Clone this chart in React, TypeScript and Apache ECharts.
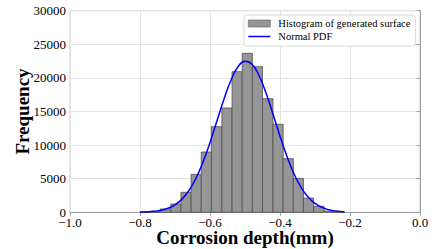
import React, { useEffect, useRef } from "react";
import * as echarts from "echarts";

// Histogram bin edges (mm) and counts
const binEdges = [
  -0.8, -0.771, -0.742, -0.712, -0.683, -0.654, -0.625, -0.596, -0.566, -0.537,
  -0.508, -0.479, -0.45, -0.42, -0.391, -0.362, -0.333, -0.304, -0.274, -0.245, -0.216,
];
const binCounts = [
  30, 150, 500, 1235, 2980, 5650, 8970, 12740, 15520, 20920,
  23660, 21670, 16900, 13100, 7980, 5050, 2120, 900, 200, 50,
];

// Normal PDF curve
const pdfX = [
  -0.8, -0.78, -0.76, -0.74, -0.72, -0.7, -0.68, -0.66, -0.64, -0.62, -0.6,
  -0.58, -0.56, -0.54, -0.52, -0.5, -0.48, -0.46, -0.44, -0.42, -0.4, -0.38,
  -0.36, -0.34, -0.32, -0.3, -0.28, -0.26, -0.24, -0.22, -0.216,
];
const pdfY = [
  30, 65, 145, 300, 600, 1110, 1960, 3240, 5070, 7470, 10380,
  13620, 16850, 19660, 21650, 22490, 22030, 20360, 17750, 14600, 11330, 8290,
  5720, 3730, 2290, 1330, 725, 375, 180, 85, 70,
];

const yTicks = [0, 5000, 10000, 15000, 20000, 25000, 30000];
const xTicks = [-1.0, -0.8, -0.6, -0.4, -0.2, 0.0];

const histName = "Histogram of generated surface";
const pdfName = "Normal PDF";

export default function App() {
  const ref = useRef<HTMLDivElement>(null);
  useEffect(() => {
    if (!ref.current) return;
    const chart = echarts.init(ref.current, undefined, { renderer: "svg" });
    const histData = binCounts.map((c, i) => [binEdges[i], binEdges[i + 1], c]);
    const lineData = pdfX.map((x, i) => [x, pdfY[i]]);
    const font = "'Liberation Serif', 'Times New Roman', serif";
    chart.setOption({
      animation: false,
      textStyle: { fontFamily: font, color: "#000" },
      grid: {
        left: 70,
        right: 12,
        top: 10.7,
        bottom: 36.7,
        show: true,
        borderColor: "#c8c8c8",
        borderWidth: 1,
        containLabel: false,
        outerBoundsMode: "none",
      },
      legend: {
        orient: "vertical",
        left: 244,
        top: 15,
        width: 171,
        padding: [3, 5, 4, 4],
        itemGap: 2,
        itemWidth: 22,
        itemHeight: 7,
        backgroundColor: "#fff",
        borderColor: "#d8d8d8",
        borderWidth: 1,
        borderRadius: 3,
        textStyle: { fontFamily: font, fontSize: 10.5, color: "#000", padding: [0, 0, 0, 3] },
        data: [
          {
            name: histName,
            icon: "rect",
            itemStyle: { color: "#969696", borderColor: "#5a5a5a", borderWidth: 0.6 },
          },
          {
            name: pdfName,
            icon: "path://M0,0 L44,0 L44,3 L0,3 Z",
            itemStyle: { color: "#0000ff", borderWidth: 0 },
          },
        ],
      },
      xAxis: {
        type: "value",
        min: -1.0,
        max: 0.0,
        interval: 0.2,
        name: "Corrosion depth(mm)",
        nameLocation: "middle",
        nameGap: 16,
        nameMoveOverlap: false,
        nameTextStyle: { fontFamily: font, fontSize: 19, fontWeight: "bold", color: "#000" },
        axisLine: { show: true, onZero: false, lineStyle: { color: "#a0a0a0", width: 1 } },
        axisTick: { show: true, length: 3.5, lineStyle: { color: "#a0a0a0" } },
        axisLabel: {
          fontFamily: font,
          fontSize: 13,
          color: "#000",
          margin: 4,
          formatter: (v: number) => {
            const t = xTicks.find((k) => Math.abs(k - v) < 1e-9);
            const val = t !== undefined ? t : v;
            const s = Math.abs(val).toFixed(1);
            return val < -1e-9 ? "\u2212" + s : s;
          },
        },
        splitLine: { show: true, lineStyle: { color: "#e3e3e3", width: 1 } },
      },
      yAxis: {
        type: "value",
        min: 0,
        max: 30000,
        interval: 5000,
        name: "Frequency",
        nameLocation: "middle",
        nameGap: 38,
        nameMoveOverlap: false,
        nameTextStyle: { fontFamily: font, fontSize: 19, fontWeight: "bold", color: "#000" },
        axisLine: { show: true, lineStyle: { color: "#a0a0a0", width: 1 } },
        axisTick: { show: true, length: 3.5, lineStyle: { color: "#a0a0a0" } },
        axisLabel: {
          fontFamily: font,
          fontSize: 13,
          color: "#000",
          margin: 4,
          formatter: (v: number) => {
            const t = yTicks.find((k) => Math.abs(k - v) < 1e-6);
            return String(t !== undefined ? t : v);
          },
        },
        splitLine: { show: true, lineStyle: { color: "#e3e3e3", width: 1 } },
      },
      series: [
        {
          name: histName,
          type: "custom",
          itemStyle: { color: "#969696" },
          encode: { x: [0, 1], y: 2 },
          data: histData,
          z: 2,
          renderItem: (_params: any, api: any) => {
            const x0 = api.value(0);
            const x1 = api.value(1);
            const v = api.value(2);
            const p0 = api.coord([x0, v]);
            const p1 = api.coord([x1, 0]);
            return {
              type: "rect",
              shape: { x: p0[0], y: p0[1], width: p1[0] - p0[0], height: p1[1] - p0[1] },
              style: { fill: "#969696", stroke: "#4f4f4f", lineWidth: 0.8 },
            };
          },
        },
        {
          name: pdfName,
          type: "line",
          data: lineData,
          smooth: true,
          symbol: "none",
          showSymbol: false,
          z: 3,
          itemStyle: { color: "#0000ff" },
          lineStyle: { color: "#0000ff", width: 1.5 },
        },
      ],
    });
    return () => chart.dispose();
  }, []);
  return (
    <div
      ref={ref}
      style={{ position: "fixed", left: 0, top: 0, width: 432, height: 249, background: "#fff" }}
    />
  );
}
